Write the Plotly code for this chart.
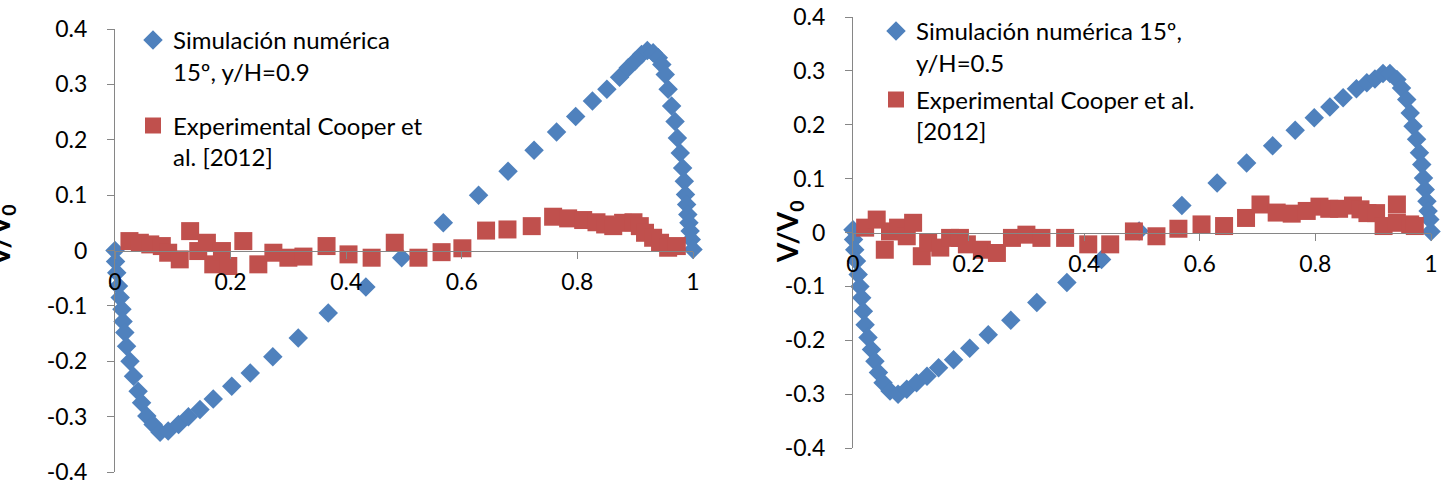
import plotly.graph_objects as go

# ---------------- data: left panel (y/H = 0.9) ----------------
sim1_x = [0, 0.001, 0.003, 0.006, 0.009, 0.012, 0.014, 0.017, 0.020, 0.026, 0.032, 0.040, 0.046,
          0.055, 0.066, 0.078, 0.092, 0.110, 0.127, 0.147, 0.170, 0.202, 0.234, 0.273, 0.317,
          0.369, 0.434, 0.496, 0.568, 0.629, 0.680, 0.725, 0.764, 0.797, 0.826, 0.851, 0.873,
          0.888, 0.900, 0.911, 0.921, 0.931, 0.940, 0.946, 0.952, 0.957, 0.963, 0.969, 0.973,
          0.978, 0.982, 0.985, 0.987, 0.989, 0.991, 0.993, 0.995, 0.997, 1.0]
sim1_y = [0, -0.020, -0.040, -0.064, -0.085, -0.106, -0.128, -0.148, -0.173, -0.200, -0.227,
          -0.254, -0.275, -0.299, -0.314, -0.328, -0.326, -0.314, -0.300, -0.287, -0.268,
          -0.245, -0.221, -0.192, -0.158, -0.113, -0.066, -0.013, 0.050, 0.100, 0.143, 0.181,
          0.214, 0.242, 0.270, 0.291, 0.313, 0.330, 0.342, 0.354, 0.361, 0.357, 0.348, 0.336,
          0.318, 0.291, 0.261, 0.233, 0.203, 0.176, 0.149, 0.125, 0.101, 0.083, 0.065, 0.050,
          0.035, 0.020, 0.002]
exp1_x = [0.025, 0.043, 0.061, 0.081, 0.092, 0.112, 0.130, 0.144, 0.159, 0.170, 0.185, 0.196,
          0.222, 0.248, 0.274, 0.300, 0.326, 0.366, 0.404, 0.444, 0.484, 0.525, 0.565, 0.601,
          0.642, 0.679, 0.721, 0.758, 0.784, 0.810, 0.833, 0.848, 0.862, 0.879, 0.897, 0.908,
          0.917, 0.931, 0.943, 0.957, 0.972]
exp1_y = [0.017, 0.014, 0.011, 0.008, -0.004, -0.016, 0.035, -0.001, 0.014, -0.025, -0.001,
          -0.028, 0.017, -0.025, -0.004, -0.013, -0.011, 0.008, -0.007, -0.013, 0.014, -0.013,
          -0.003, 0.004, 0.036, 0.038, 0.044, 0.061, 0.058, 0.055, 0.051, 0.047, 0.044, 0.050,
          0.051, 0.044, 0.032, 0.023, 0.014, 0.005, 0.008]

# ---------------- data: right panel (y/H = 0.5) ----------------
sim2_x = [0, 0.001, 0.003, 0.006, 0.009, 0.012, 0.015, 0.018, 0.021, 0.026, 0.032, 0.038, 0.044,
          0.052, 0.064, 0.078, 0.093, 0.110, 0.128, 0.148, 0.174, 0.202, 0.234, 0.273, 0.318,
          0.370, 0.430, 0.495, 0.569, 0.630, 0.681, 0.726, 0.765, 0.798, 0.825, 0.848, 0.871,
          0.889, 0.903, 0.917, 0.929, 0.941, 0.949, 0.958, 0.964, 0.969, 0.975, 0.980, 0.984,
          0.987, 0.990, 0.993, 0.995, 0.998, 1.0]
sim2_y = [0.005, -0.013, -0.032, -0.053, -0.078, -0.100, -0.121, -0.146, -0.171, -0.195, -0.217,
          -0.239, -0.260, -0.279, -0.294, -0.300, -0.291, -0.279, -0.267, -0.251, -0.236, -0.215,
          -0.190, -0.163, -0.130, -0.093, -0.050, 0.003, 0.050, 0.092, 0.129, 0.161, 0.190,
          0.213, 0.233, 0.250, 0.267, 0.278, 0.285, 0.295, 0.295, 0.284, 0.268, 0.247, 0.222,
          0.197, 0.173, 0.148, 0.126, 0.101, 0.080, 0.058, 0.040, 0.024, 0.002]
exp2_x = [0.021, 0.041, 0.055, 0.064, 0.078, 0.093, 0.104, 0.119, 0.130, 0.151, 0.168, 0.185,
          0.197, 0.223, 0.249, 0.275, 0.300, 0.326, 0.367, 0.407, 0.445, 0.486, 0.525, 0.563,
          0.603, 0.642, 0.680, 0.705, 0.733, 0.759, 0.785, 0.807, 0.824, 0.841, 0.865, 0.878,
          0.890, 0.905, 0.918, 0.941, 0.941, 0.964, 0.972]
exp2_y = [0.009, 0.024, -0.032, 0.002, 0.009, -0.007, 0.018, -0.044, -0.019, -0.028, -0.010,
          -0.010, -0.022, -0.032, -0.038, -0.010, -0.004, -0.010, -0.010, -0.022, -0.022, 0.002,
          -0.007, 0.007, 0.015, 0.012, 0.027, 0.052, 0.037, 0.035, 0.040, 0.048, 0.044, 0.044,
          0.050, 0.043, 0.036, 0.036, 0.012, 0.052, 0.018, 0.015, 0.012]

sim1_name = "Simulación numérica<br>15º, y/H=0.9"
exp1_name = "Experimental Cooper et<br>al. [2012]"
sim2_name = "Simulación numérica 15º,<br>y/H=0.5"
exp2_name = "Experimental Cooper et al.<br>[2012]"
y_title = "<b>V/V<sub>0</sub></b>"

x_ticks = [0, 0.2, 0.4, 0.6, 0.8, 1]
x_ticktext = ["0", "0.2", "0.4", "0.6", "0.8", "1"]
y_ticks = [-0.4, -0.3, -0.2, -0.1, 0, 0.1, 0.2, 0.3, 0.4]
y_ticktext = ["-0.4", "-0.3", "-0.2", "-0.1", "0", "0.1", "0.2", "0.3", "0.4"]

BLUE = "#4F81BD"
RED = "#C0504D"
FONT = "Lato"
W, H = 1452, 486
OFF = 0  # body margin removed via post_script


def styled(name):
    return "<br>".join("<span style='font-size:24px'>%s</span>" % s for s in name.split("<br>"))


fig = go.Figure()
fig.add_trace(go.Scatter(x=sim1_x, y=sim1_y, mode="markers", name=styled(sim1_name),
                         marker=dict(symbol="diamond", size=15, color=BLUE),
                         cliponaxis=False, xaxis="x", yaxis="y", legend="legend",
                         legendgroup="a"))
fig.add_trace(go.Scatter(x=exp1_x, y=exp1_y, mode="markers", name=styled(exp1_name),
                         marker=dict(symbol="square", size=18, color=RED),
                         cliponaxis=False, xaxis="x", yaxis="y", legend="legend",
                         legendgroup="b"))
fig.add_trace(go.Scatter(x=sim2_x, y=sim2_y, mode="markers", name=styled(sim2_name),
                         marker=dict(symbol="diamond", size=15, color=BLUE),
                         cliponaxis=False, xaxis="x2", yaxis="y2", legend="legend2",
                         legendgroup="c"))
fig.add_trace(go.Scatter(x=exp2_x, y=exp2_y, mode="markers", name=styled(exp2_name),
                         marker=dict(symbol="square", size=18, color=RED),
                         cliponaxis=False, xaxis="x2", yaxis="y2", legend="legend2",
                         legendgroup="d"))

axcommon = dict(showline=True, linecolor="#868686", linewidth=1.2, ticks="outside",
                ticklen=7, tickcolor="#868686", tickwidth=1.2, showgrid=False,
                zeroline=False, ticklabeloverflow="allow",
                tickfont=dict(family=FONT, size=23, color="black"))

def px_x(p):
    return (p - OFF) / W

def px_y(p):
    return 1 - (p - OFF) / H

fig.update_layout(
    width=W, height=H, margin=dict(l=0, r=0, t=0, b=0, autoexpand=False),
    paper_bgcolor="white", plot_bgcolor="white",
    font=dict(family=FONT, size=23, color="black"),
    xaxis=dict(domain=[px_x(115), px_x(693)], range=[0, 1], anchor="free",
               position=px_y(251), tickvals=x_ticks, ticktext=x_ticktext,
               ticklabelstandoff=3, **axcommon),
    yaxis=dict(domain=[px_y(472), px_y(29)], range=[-0.4, 0.4], anchor="x",
               tickvals=y_ticks, ticktext=y_ticktext, ticklabelstandoff=15, **axcommon),
    xaxis2=dict(domain=[px_x(853), px_x(1431)], range=[0, 1], anchor="free",
                position=px_y(233), tickvals=x_ticks, ticktext=x_ticktext,
                ticklabelstandoff=3, **axcommon),
    yaxis2=dict(domain=[px_y(448), px_y(17)], range=[-0.4, 0.4], anchor="x2",
                tickvals=y_ticks, ticktext=y_ticktext, ticklabelstandoff=15, **axcommon),
    legend=dict(x=px_x(133), y=px_y(18), xanchor="left", yanchor="top", valign="top",
                font=dict(family=FONT, size=24, color="black"), bgcolor="rgba(0,0,0,0)",
                tracegroupgap=20),
    legend2=dict(x=px_x(876), y=px_y(9), xanchor="left", yanchor="top", valign="top",
                 font=dict(family=FONT, size=24, color="black"), bgcolor="rgba(0,0,0,0)",
                 tracegroupgap=3),
    showlegend=True,
)

fig.add_annotation(text=y_title, xref="paper", yref="paper", x=px_x(1), y=px_y(236),
                   xanchor="center", yanchor="middle", textangle=-90, showarrow=False,
                   font=dict(family=FONT, size=28, color="black"))
fig.add_annotation(text=y_title, xref="paper", yref="paper", x=px_x(789), y=px_y(232),
                   xanchor="center", yanchor="middle", textangle=-90, showarrow=False,
                   font=dict(family=FONT, size=28, color="black"))

fig.write_html("out.html", config={"displayModeBar": False},
               post_script="document.body.style.margin='0';")
